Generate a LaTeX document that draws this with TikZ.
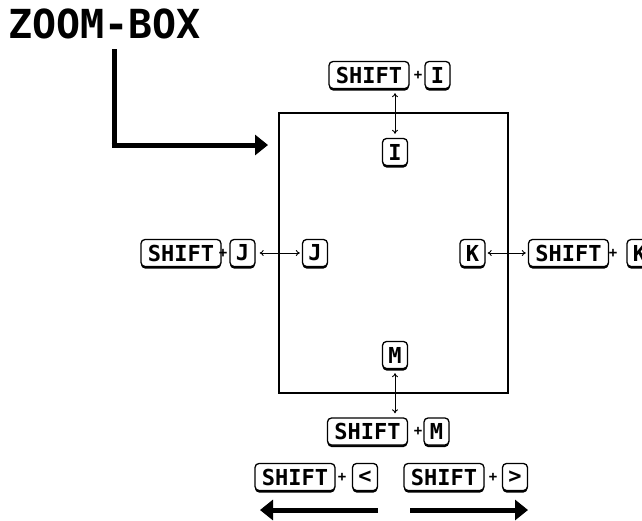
\documentclass[tikz,border=0pt]{standalone}
\usepackage{fontspec}
\newfontfamily\keyfont{DejaVu Sans Mono}
\usetikzlibrary{arrows.meta,shadows}
\tikzset{
  keycap/.style={draw, rounded corners=4pt, line width=1.3pt, inner sep=0pt,
    minimum height=27pt, font=\keyfont\bfseries\fontsize{22}{22}\selectfont,
    fill=white, drop shadow={shadow xshift=0pt, shadow yshift=-2pt, fill=black, opacity=1}},
  wide/.style={keycap, minimum width=80pt},
  single/.style={keycap, minimum width=25pt},
  plus/.style={inner sep=0pt, font=\keyfont\bfseries\fontsize{14}{14}\selectfont},
  thinarrow/.style={{To[length=4pt,width=6pt]}-{To[length=4pt,width=6pt]}, line width=0.9pt},
  fatarrow/.style={-{Triangle[length=13pt,width=20pt]}, line width=5pt}
}
\begin{document}
\begin{tikzpicture}[x=1pt, y=-1pt]
  \useasboundingbox (0,0) rectangle (642,520);
  \begin{scope}
    \clip (0,0) rectangle (642,520);
    % title and pointer
    \node[anchor=west, inner sep=0pt, font=\keyfont\bfseries\fontsize{40}{40}\selectfont]
      (title) at (8,24) {ZOOM-BOX};
    \draw[line width=1.2pt] (279,113) rectangle (508,393);
    \coordinate (box) at (279,145);
    \coordinate (top) at (114,49);
    \coordinate (bend) at (114,145);
    \draw[line width=5pt] (top) -- (bend);
    \draw[fatarrow] (111.5,145) -- ([xshift=-11pt]box);
    % keys
    \node[wide] (shiftI) at (369,75) {SHIFT};
    \node[plus] (plusI) at (418,75) {+};
    \node[single] (keyI) at (437.5,75) {I};
    \node[single] (innerI) at (395,152) {I};
    \node[wide] (shiftJ) at (181,253) {SHIFT};
    \node[plus] (plusJ) at (223,253) {+};
    \node[single] (keyJ) at (242.5,253) {J};
    \node[single] (innerJ) at (315,253) {J};
    \node[single] (innerK) at (472.5,253) {K};
    \node[wide] (shiftK) at (568.5,253) {SHIFT};
    \node[plus] (plusK) at (613,253) {+};
    \node[single] (keyK) at (639.5,253) {K};
    \node[single] (innerM) at (395,355) {M};
    \node[wide] (shiftM) at (367.5,431.5) {SHIFT};
    \node[plus] (plusM) at (418,431.5) {+};
    \node[single] (keyM) at (436.5,431.5) {M};
    \node[wide] (shiftL) at (295,477) {SHIFT};
    \node[plus] (plusL) at (342,477) {+};
    \node[single] (keyL) at (365,477) {<};
    \node[wide] (shiftR) at (444,477) {SHIFT};
    \node[plus] (plusR) at (493,477) {+};
    \node[single] (keyR) at (515,477) {>};
    % connectors
    \draw[thinarrow] ([yshift=-4pt]innerI.north |- shiftI.south) -- ([yshift=4pt]innerI.north);
    \draw[thinarrow] ([xshift=4pt]keyJ.east) -- ([xshift=-2pt]innerJ.west);
    \draw[thinarrow] ([xshift=2pt]innerK.east) -- ([xshift=-2pt]shiftK.west);
    \draw[thinarrow] ([yshift=-4pt]innerM.south) -- ([yshift=4pt]innerM.south |- shiftM.north);
    \coordinate (leftend) at (378,510);
    \coordinate (rightstart) at (410,510);
    \draw[fatarrow] (leftend) -- (260,510);
    \draw[fatarrow] (rightstart) -- (528,510);
  \end{scope}
\end{tikzpicture}
\end{document}
